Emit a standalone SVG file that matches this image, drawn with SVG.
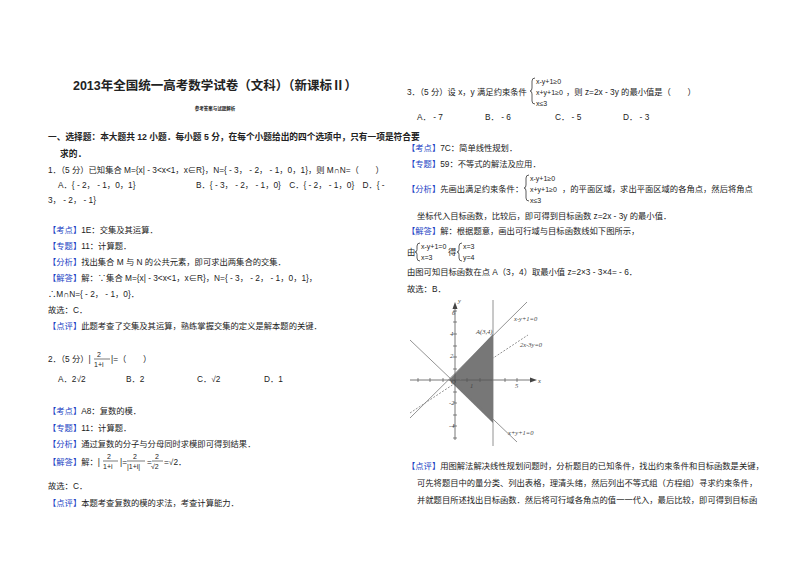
<svg xmlns="http://www.w3.org/2000/svg" width="800" height="565" viewBox="0 0 800 565">
<style>
text{font-family:"Liberation Sans","Noto Sans CJK SC",sans-serif;font-size:8.3px;fill:#222}
.b{font-weight:bold}
.t{fill:#1a3fc4}
.s{font-size:7px}
.br{stroke:#333;stroke-width:0.8;fill:none}
.ax{stroke:#555;stroke-width:0.8;fill:none}
.gl{stroke:#777;stroke-width:0.8;fill:none}
.lb{font-family:"Liberation Serif",serif;font-style:italic;font-size:6.5px;fill:#444}
</style>
<defs>
<path id="br3" class="br" d="M4,0 Q1,0 1,3 L1,10 Q1,13 -1,13 Q1,13 1,16 L1,23 Q1,26 4,26"/>
<path id="br2" class="br" d="M4,0 Q1,0 1,3 L1,6.5 Q1,9 -1,9 Q1,9 1,11.5 L1,15 Q1,18 4,18"/>
</defs>
<rect width="800" height="565" fill="#fff"/>
<g id="left">
<text x="215" y="90" class="b" text-anchor="middle" style="font-size:12.5px">2013年全国统一高考数学试卷（文科）（新课标Ⅱ）</text>
<text x="215" y="110" class="b" text-anchor="middle" style="font-size:4.5px">参考答案与试题解析</text>
<text x="48" y="140" class="b" style="font-size:8.7px">一、选择题：本大题共 12 小题．每小题 5 分，在每个小题给出的四个选项中，只有一项是符合要</text>
<text x="60" y="157" class="b" style="font-size:8.7px">求的．</text>
<text x="48" y="173">1．（5 分）已知集合 M={x| ‑ 3&lt;x&lt;1，x∈R}，N={ ‑ 3， ‑ 2， ‑ 1，0，1}，则 M∩N=（　　）</text>
<text x="58" y="188">A．{ ‑ 2， ‑ 1，0，1}</text>
<text x="196" y="188">B．{ ‑ 3， ‑ 2， ‑ 1，0}　C．{ ‑ 2， ‑ 1，0}　D．{ ‑</text>
<text x="48" y="203">3， ‑ 2， ‑ 1}</text>
<text x="48" y="233"><tspan class="t">【考点】</tspan>1E：交集及其运算．</text>
<text x="48" y="249"><tspan class="t">【专题】</tspan>11：计算题．</text>
<text x="48" y="265"><tspan class="t">【分析】</tspan>找出集合 M 与 N 的公共元素，即可求出两集合的交集．</text>
<text x="48" y="281"><tspan class="t">【解答】</tspan>解：∵集合 M={x| ‑ 3&lt;x&lt;1，x∈R}，N={ ‑ 3， ‑ 2， ‑ 1，0，1}，</text>
<text x="48" y="297">∴M∩N={ ‑ 2， ‑ 1，0}．</text>
<text x="48" y="313">故选：C．</text>
<text x="48" y="329"><tspan class="t">【点评】</tspan>此题考查了交集及其运算，熟练掌握交集的定义是解本题的关键．</text>
<text x="48" y="362">2．（5 分）|</text>
<text x="97" y="357" class="s">2</text><line x1="94" y1="359" x2="110" y2="359" stroke="#222" stroke-width="0.6"/><text x="94" y="367" class="s">1+i</text>
<text x="111" y="362">|=（　　）</text>
<text x="58" y="382">A．2√2</text><text x="126" y="382">B．2</text><text x="197" y="382">C．√2</text><text x="264" y="382">D．1</text>
<text x="48" y="414"><tspan class="t">【考点】</tspan>A8：复数的模．</text>
<text x="48" y="431"><tspan class="t">【专题】</tspan>11：计算题．</text>
<text x="48" y="447"><tspan class="t">【分析】</tspan>通过复数的分子与分母同时求模即可得到结果．</text>
<text x="48" y="465"><tspan class="t">【解答】</tspan>解：|</text>
<text x="107" y="459" class="s">2</text><line x1="103" y1="461" x2="118" y2="461" stroke="#222" stroke-width="0.6"/><text x="103" y="469" class="s">1+i</text>
<text x="120" y="465">|=</text>
<text x="133" y="459" class="s">2</text><line x1="127" y1="461" x2="145" y2="461" stroke="#222" stroke-width="0.6"/><text x="127" y="469" class="s">|1+i|</text>
<text x="147" y="465">=</text>
<text x="155" y="459" class="s">2</text><line x1="152" y1="461" x2="163" y2="461" stroke="#222" stroke-width="0.6"/><text x="151" y="469" class="s">√2</text>
<text x="164" y="465">=√2．</text>
<text x="48" y="489">故选：C．</text>
<text x="48" y="506"><tspan class="t">【点评】</tspan>本题考查复数的模的求法，考查计算能力．</text>
</g>
<g id="right">
<text x="407" y="95">3．（5 分）设 x，y 满足约束条件</text>
<use href="#br3" x="531" y="78"/>
<text x="536" y="84" class="s">x‑y+1≥0</text><text x="536" y="95" class="s">x+y+1≥0</text><text x="536" y="106" class="s">x≤3</text>
<text x="566" y="95">，则 z=2x ‑ 3y 的最小值是（　　）</text>
<text x="417" y="120">A． ‑ 7</text><text x="485" y="120">B． ‑ 6</text><text x="555" y="120">C． ‑ 5</text><text x="623" y="120">D． ‑ 3</text>
<text x="407" y="151"><tspan class="t">【考点】</tspan>7C：简单线性规划．</text>
<text x="407" y="167"><tspan class="t">【专题】</tspan>59：不等式的解法及应用．</text>
<text x="407" y="192"><tspan class="t">【分析】</tspan>先画出满足约束条件：</text>
<use href="#br3" x="525" y="175"/>
<text x="530" y="181" class="s">x‑y+1≥0</text><text x="530" y="192" class="s">x+y+1≥0</text><text x="530" y="203" class="s">x≤3</text>
<text x="562" y="192">，的平面区域，求出平面区域的各角点，然后将角点</text>
<text x="417" y="219">坐标代入目标函数，比较后，即可得到目标函数 z=2x ‑ 3y 的最小值．</text>
<text x="407" y="234"><tspan class="t">【解答】</tspan>解：根据题意，画出可行域与目标函数线如下图所示，</text>
<text x="407" y="255">由</text>
<use href="#br2" x="416" y="243"/>
<text x="421" y="249" class="s">x‑y+1=0</text><text x="421" y="260" class="s">x=3</text>
<text x="448" y="255">得</text>
<use href="#br2" x="458" y="243"/>
<text x="463" y="249" class="s">x=3</text><text x="463" y="260" class="s">y=4</text>
<text x="407" y="275">由图可知目标函数在点 A（3，4）取最小值 z=2×3 ‑ 3×4= ‑ 6．</text>
<text x="407" y="292">故选：B．</text>
<text x="407" y="469"><tspan class="t">【点评】</tspan>用图解法解决线性规划问题时，分析题目的已知条件，找出约束条件和目标函数是关键，</text>
<text x="417" y="486">可先将题目中的量分类、列出表格，理清头绪，然后列出不等式组（方程组）寻求约束条件，</text>
<text x="417" y="503">并就题目所述找出目标函数．然后将可行域各角点的值一一代入，最后比较，即可得到目标函</text>
</g>
<g id="graph">
<polygon points="449,380 493,334 493,423" fill="#777"/>
<line class="ax" x1="410" y1="380" x2="533" y2="380"/>
<polygon points="537,380 530,377.5 530,382.5" fill="#444"/>
<line class="ax" x1="455" y1="440" x2="455" y2="306"/>
<polygon points="455,302 452.5,309 457.5,309" fill="#444"/>
<g stroke="#555" stroke-width="0.7">
<line x1="418" y1="378" x2="418" y2="382"/><line x1="430" y1="378" x2="430" y2="382"/><line x1="443" y1="378" x2="443" y2="382"/><line x1="467" y1="378" x2="467" y2="382"/><line x1="480" y1="378" x2="480" y2="382"/><line x1="505" y1="378" x2="505" y2="382"/><line x1="517" y1="378" x2="517" y2="382"/>
<line x1="453" y1="311" x2="457" y2="311"/><line x1="453" y1="322" x2="457" y2="322"/><line x1="453" y1="334" x2="457" y2="334"/><line x1="453" y1="346" x2="457" y2="346"/><line x1="453" y1="357" x2="457" y2="357"/><line x1="453" y1="369" x2="457" y2="369"/><line x1="453" y1="392" x2="457" y2="392"/><line x1="453" y1="403" x2="457" y2="403"/><line x1="453" y1="415" x2="457" y2="415"/><line x1="453" y1="426" x2="457" y2="426"/><line x1="453" y1="438" x2="457" y2="438"/>
</g>
<line class="gl" x1="493" y1="300" x2="493" y2="446"/>
<line class="gl" x1="410" y1="418" x2="527" y2="302"/>
<line class="gl" x1="410" y1="340" x2="517" y2="442"/>
<line class="gl" x1="410" y1="413" x2="528" y2="335" stroke-dasharray="2,1.5"/>
<text class="lb" x="452" y="315">6</text><text class="lb" x="450" y="336">4</text><text class="lb" x="450" y="358">2</text><text class="lb" x="451" y="384">O</text><text class="lb" x="470" y="388">1</text><text class="lb" x="515" y="388">5</text><text class="lb" x="449" y="405">‑2</text><text class="lb" x="449" y="428">‑4</text>
<text class="lb" x="476" y="334">A(3,4)</text>
<text class="lb" x="538" y="383">x</text><text class="lb" x="458" y="303">y</text>
<text class="lb" x="514" y="321">x‑y+1=0</text>
<text class="lb" x="520" y="347">2x‑3y=0</text>
<text class="lb" x="508" y="435">x+y+1=0</text>
</g>
</svg>
